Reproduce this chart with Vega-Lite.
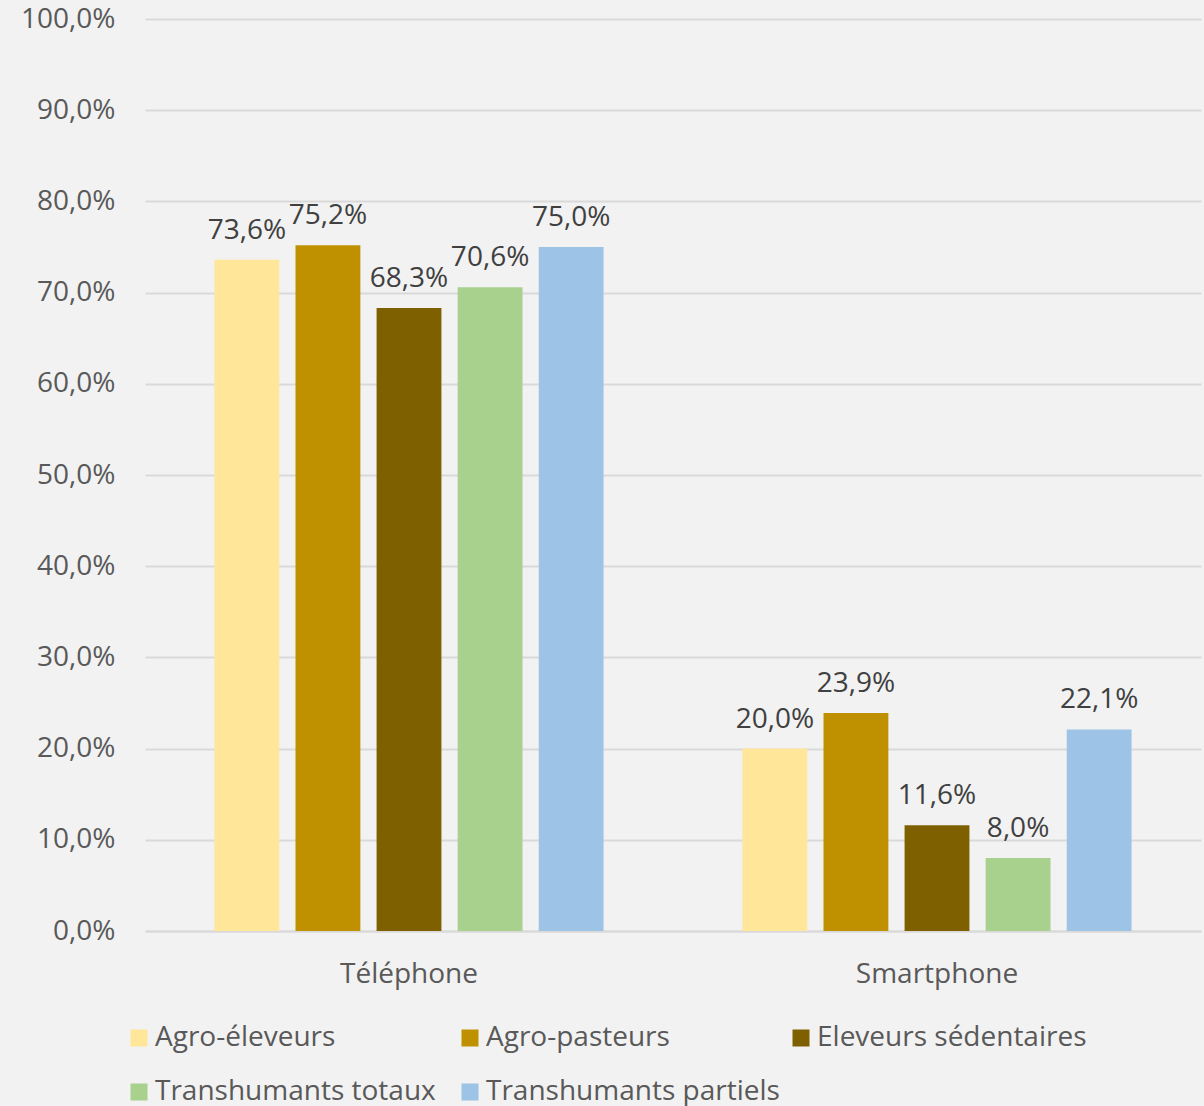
{
  "$schema": "https://vega.github.io/schema/vega-lite/v6.json",
  "width": 1056,
  "height": 912,
  "autosize": {"type": "none"},
  "padding": {"left": 145, "top": 19, "right": 3, "bottom": 175},
  "background": "#F2F2F2",
  "config": {
    "locale": {"number": {"decimal": ",", "thousands": " ", "grouping": [3], "currency": ["", " €"]}},
    "view": {"stroke": null},
    "font": "Open Sans"
  },
  "data": {
    "values": [
      {"type": "Téléphone", "groupe": "Agro-éleveurs", "value": 0.736},
      {"type": "Téléphone", "groupe": "Agro-pasteurs", "value": 0.752},
      {"type": "Téléphone", "groupe": "Eleveurs sédentaires", "value": 0.683},
      {"type": "Téléphone", "groupe": "Transhumants totaux", "value": 0.706},
      {"type": "Téléphone", "groupe": "Transhumants partiels", "value": 0.750},
      {"type": "Smartphone", "groupe": "Agro-éleveurs", "value": 0.200},
      {"type": "Smartphone", "groupe": "Agro-pasteurs", "value": 0.239},
      {"type": "Smartphone", "groupe": "Eleveurs sédentaires", "value": 0.116},
      {"type": "Smartphone", "groupe": "Transhumants totaux", "value": 0.080},
      {"type": "Smartphone", "groupe": "Transhumants partiels", "value": 0.221}
    ]
  },
  "encoding": {
    "x": {
      "field": "type", "type": "nominal", "sort": ["Téléphone", "Smartphone"],
      "scale": {"paddingInner": 0.263, "paddingOuter": 0.1315},
      "axis": {"title": null, "labelAngle": 0, "labelFontSize": 28, "labelColor": "#595959", "labelPadding": 29, "ticks": false, "domainColor": "#D9D9D9", "domainWidth": 2}
    },
    "xOffset": {
      "field": "groupe", "type": "nominal",
      "sort": ["Agro-éleveurs", "Agro-pasteurs", "Eleveurs sédentaires", "Transhumants totaux", "Transhumants partiels"],
      "scale": {"paddingInner": 0.2, "paddingOuter": 0}
    },
    "y": {
      "field": "value", "type": "quantitative",
      "scale": {"domain": [0, 1], "nice": false},
      "axis": {"title": null, "format": ".1%", "values": [0, 0.1, 0.2, 0.3, 0.4, 0.5, 0.6, 0.7, 0.8, 0.9, 1.0], "labelOverlap": false, "labelFontSize": 28, "labelColor": "#595959", "labelPadding": 30, "ticks": false, "domain": false, "gridColor": "#D9D9D9", "gridWidth": 2}
    }
  },
  "layer": [
    {
      "mark": {"type": "bar"},
      "encoding": {
        "color": {
          "field": "groupe", "type": "nominal",
          "sort": ["Agro-éleveurs", "Agro-pasteurs", "Eleveurs sédentaires", "Transhumants totaux", "Transhumants partiels"],
          "scale": {
            "domain": ["Agro-éleveurs", "Agro-pasteurs", "Eleveurs sédentaires", "Transhumants totaux", "Transhumants partiels"],
            "range": ["#FFE699", "#BF9000", "#7F6000", "#A9D18E", "#9DC3E6"]
          },
          "legend": {
            "title": null, "orient": "none", "legendX": -20, "legendY": 1005, "padding": 0,
            "direction": "horizontal", "columns": 3, "gridAlign": "all",
            "symbolType": "square", "symbolSize": 289, "symbolStrokeWidth": 0,
            "labelFontSize": 28, "labelColor": "#595959", "labelOffset": 2,
            "columnPadding": 7, "rowPadding": 26, "labelLimit": 400
          }
        }
      }
    },
    {
      "mark": {"type": "text", "baseline": "alphabetic", "dy": -21, "fontSize": 28, "color": "#404040"},
      "encoding": {
        "text": {"field": "value", "type": "quantitative", "format": ".1%"}
      }
    }
  ]
}
